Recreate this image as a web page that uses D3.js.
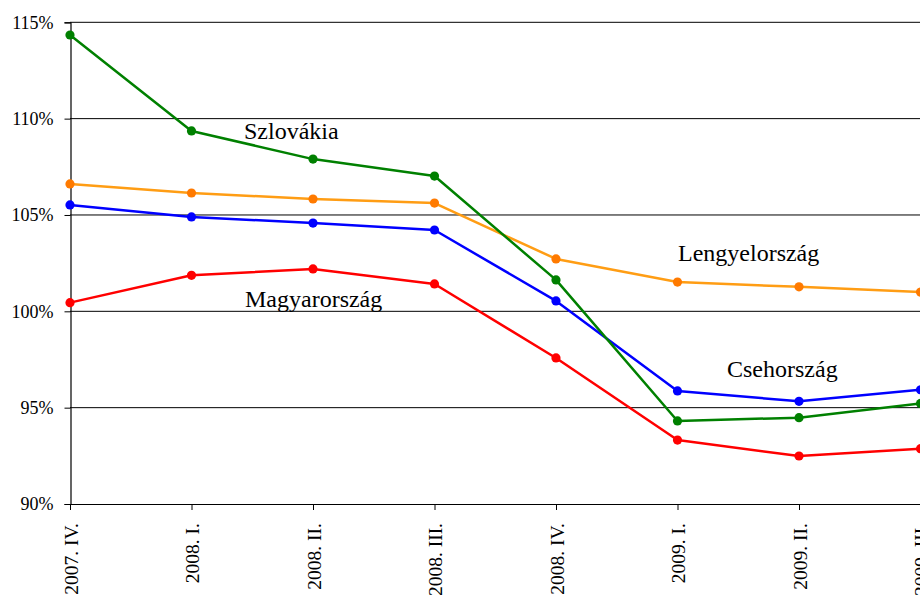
<!DOCTYPE html>
<html>
<head>
<meta charset="utf-8">
<script src="https://cdn.jsdelivr.net/npm/d3@7/dist/d3.min.js"></script>
<style>
  html, body { margin: 0; padding: 0; background: #fff; overflow: hidden; }
  svg { display: block; }
</style>
</head>
<body>
<svg id="chart" width="920" height="595"></svg>
<script>
// Quarters shown on the x axis
const quarters = ["2007. IV.", "2008. I.", "2008. II.", "2008. III.", "2008. IV.", "2009. I.", "2009. II.", "2009. III."];

// Index values (%) per country
const szlovakia     = [114.34, 109.36, 107.90, 107.02, 101.63, 94.31, 94.48, 95.22];
const lengyelorszag = [106.61, 106.14, 105.83, 105.62, 102.72, 101.52, 101.27, 101.00];
const csehorszag    = [105.52, 104.90, 104.58, 104.22, 100.54, 95.87, 95.33, 95.93];
const magyarorszag  = [100.45, 101.87, 102.20, 101.42, 97.58, 93.32, 92.49, 92.87];

// Y axis ticks
const yTicks = [90, 95, 100, 105, 110, 115];

const FONT = "'Liberation Serif', serif";

const series = [
  { name: "Lengyelország", values: lengyelorszag, line: "#ff9d14", dot: "#ff7a00", lx: 678, ly: 260.5 },
  { name: "Magyarország",  values: magyarorszag,  line: "#ff0000", dot: "#ff0000", lx: 245, ly: 306.5 },
  { name: "Csehország",    values: csehorszag,    line: "#0000ff", dot: "#0000ff", lx: 727, ly: 376.5 },
  { name: "Szlovákia",     values: szlovakia,     line: "#008000", dot: "#008000", lx: 244, ly: 138.5 }
];

const svg = d3.select("#chart");

const x = d3.scalePoint().domain(quarters).range([70, 920.5]);
const y = d3.scaleLinear().domain([90, 115]).range([504, 22.3]);

// Horizontal gridlines
svg.append("g")
  .selectAll("line")
  .data(yTicks.filter(t => t > 90))
  .join("line")
  .attr("x1", 70).attr("x2", 930)
  .attr("y1", d => y(d)).attr("y2", d => y(d))
  .attr("stroke", "#000").attr("stroke-width", 1);

// Y axis
const yAxis = svg.append("g")
  .attr("transform", "translate(70.5,0)")
  .call(d3.axisLeft(y).tickValues(yTicks).tickSize(6).tickPadding(11).tickFormat(d => d + "%"));
yAxis.attr("font-family", null).attr("font-size", null);
yAxis.select(".domain").attr("stroke", "#000").attr("stroke-width", 1.2);
yAxis.selectAll(".tick line").attr("stroke", "#000");
yAxis.selectAll(".tick text")
  .style("font-family", FONT)
  .style("font-size", "18px")
  .attr("fill", "#000");

// X axis
const xAxis = svg.append("g")
  .attr("transform", "translate(0," + y(90) + ")")
  .call(d3.axisBottom(x).tickSize(6).tickSizeOuter(0));
xAxis.attr("font-family", null).attr("font-size", null);
xAxis.select(".domain").attr("d", "M70,0.5H930").attr("stroke", "#000").attr("stroke-width", 1.2);
xAxis.selectAll(".tick line").attr("stroke", "#000");
xAxis.selectAll(".tick text")
  .style("font-family", FONT)
  .style("font-size", "19.5px")
  .attr("fill", "#000")
  .attr("text-anchor", "end")
  .attr("transform", "rotate(-90)")
  .attr("x", -19)
  .attr("y", 0)
  .attr("dy", "0.36em");

// Lines and markers
const lineGen = d3.line()
  .x((d, i) => x(quarters[i]))
  .y(d => y(d));

series.forEach(s => {
  const g = svg.append("g");
  g.append("path")
    .datum(s.values)
    .attr("d", lineGen)
    .attr("fill", "none")
    .attr("stroke", s.line)
    .attr("stroke-width", 2.5)
    .attr("stroke-linejoin", "round");
  g.selectAll("circle")
    .data(s.values)
    .join("circle")
    .attr("cx", (d, i) => x(quarters[i]))
    .attr("cy", d => y(d))
    .attr("r", 4.6)
    .attr("fill", s.dot);
});

// Series names
svg.append("g")
  .selectAll("text")
  .data(series)
  .join("text")
  .attr("x", d => d.lx)
  .attr("y", d => d.ly)
  .style("font-family", FONT)
  .style("font-size", "24px")
  .attr("fill", "#000")
  .text(d => d.name);
</script>
</body>
</html>
